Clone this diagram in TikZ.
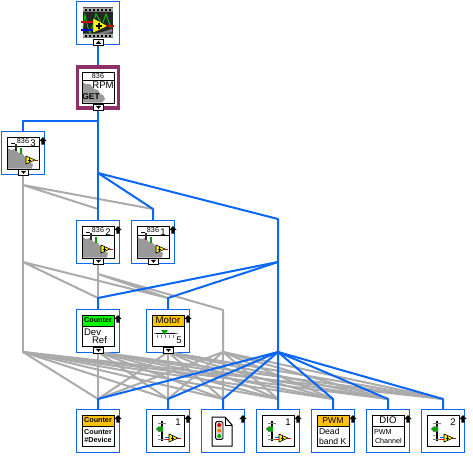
\documentclass[tikz,border=0pt]{standalone}
\usepackage{fontspec}
\setmainfont{Liberation Sans}
\definecolor{wireblue}{HTML}{0A66F5}
\definecolor{wiregray}{HTML}{ABABAB}
\definecolor{plum}{HTML}{8E2F66}
\definecolor{amber}{HTML}{FFC20E}
\definecolor{blobgray}{HTML}{999999}
\definecolor{lime}{HTML}{00FF00}
\tikzset{
  frm/.style={draw=wireblue,line width=1pt,fill=none,minimum size=43pt,inner sep=0pt,outer sep=0pt},
  frmsel/.style={draw=plum,line width=3.4pt,fill=none,minimum size=41pt,inner sep=0pt,outer sep=1.7pt},
  bluewire/.style={draw=wireblue,line width=2pt,line join=round},
  graywire/.style={draw=wiregray,line width=2pt,line join=round},
  inbox/.style={draw=black,line width=1pt,fill=white},
  lab/.style={inner sep=0pt,outer sep=0pt,text=black},
  t6/.style={lab,font=\fontsize{7.2}{8}\selectfont},
  t7/.style={lab,font=\fontsize{8.6}{9}\selectfont},
  t8/.style={lab,font=\fontsize{9.6}{10}\selectfont},
  tb/.style={lab,font=\fontsize{7.2}{8}\selectfont\bfseries},
}
% --- icon parts, all in coordinates relative to the frame's top left corner
\newcommand{\upmark}{\fill[black] (42,6)--(45.6,10)--(43.6,10)--(43.6,13.5)--(40.4,13.5)--(40.4,10)--(38.4,10)--cycle;}
\newcommand{\outbox}[1]{\draw[inbox] (17.5,38) rectangle (27.5,44.7);
  \ifnum#1=0 \fill[black] (22.5,42.8)--(19.8,39.8)--(25.2,39.8)--cycle;
  \else \fill[black] (22.5,39.6)--(19.8,42.8)--(25.2,42.8)--cycle;\fi}
\newcommand{\plainbox}{\draw[inbox] (6,6) rectangle (38,37);}
\newcommand{\ybuffer}[2]{\begin{scope}[shift={(#1,#2)}]
  \draw[red!90!black,line width=.8pt] (9,4)--(12,4);
  \fill[yellow,draw=black,line width=.6pt] (0,0)--(0,8)--(9,4)--cycle;
  \draw[black,line width=.7pt] (1.5,4)--(5,4) (3.2,2.4)--(3.2,5.6);
\end{scope}}
\newcommand{\blobicon}[1]{\draw[inbox] (6,6) rectangle (38,38);
  \draw[black,line width=1pt] (6,15)--(38,15);
  \fill[blobgray] (6.5,17)--(10,19)--(14,18)--(18,22)--(22,23)--(24,26)--(27,27)--(28,31)--(32,33)--(31,37.5)--(6.5,37.5)--cycle;
  \draw[black,line width=1pt] (6,6) rectangle (38,38);
  \draw[black,line width=.8pt] (10,12.5)--(14,12.5);
  \fill[black!80] (13.5,13)rectangle(16,20);
  \fill[green!60!black] (18.5,17)rectangle(20.5,23);
  \node[t6] at (22,10.5) {836};
  \node[t8] at (32,12) {#1};
  \ybuffer{25}{25}}
\newcommand{\sliderbase}{\fill[black] (14.5,12)rectangle(17,32);
  \draw[gray,line width=.7pt] (12,14)--(20,14)(12,18)--(14,18)(12,22)--(14,22)(12,26)--(14,26)(12,30)--(20,30);
  \fill[green!65!black,draw=gray,line width=.4pt] (10,20)--(13,17.5)--(17,17.5)--(17,22.5)--(13,22.5)--cycle;}
\newcommand{\slidericon}[1]{\plainbox \sliderbase
  \node[t8] at (32,13) {#1};
  \draw[wireblue,line width=.7pt] (19,28)--(22.5,28);
  \draw[red,line width=.7pt] (19,30)--(22.5,30);
  \ybuffer{23}{25}}
\newcommand{\titled}[4]{\draw[inbox] (6,6) rectangle (38,37);
  \fill[#1] (6.5,6.5) rectangle (37.5,#2);
  \draw[black,line width=1pt] (6,#2)--(38,#2);
  \node[#4] at (22,{(6+#2)/2}) {#3};}
\begin{document}
\begin{tikzpicture}[x=1pt,y=-1pt]
\useasboundingbox (0,0) rectangle (473,458);
\fill[white] (0,0) rectangle (473,458);
% frames
\node[frm] (wave) at (98,22.5) {};
\node[frmsel] (get) at (98,87.5) {};
\node[frm] (gthree) at (23,152.5) {};
\node[frm] (gtwo) at (98,241.5) {};
\node[frm] (gone) at (153,241.5) {};
\node[frm] (cref) at (98,330.5) {};
\node[frm] (motor) at (168,330.5) {};
\node[frm] (cdev) at (98,430.5) {};
\node[frm] (slone) at (168,430.5) {};
\node[frm] (light) at (223,430.5) {};
\node[frm] (sltwo) at (278,430.5) {};
\node[frm] (pwm) at (333,430.5) {};
\node[frm] (dio) at (388,430.5) {};
\node[frm] (slthree) at (443,430.5) {};
% bend points
\coordinate (ja) at (98,121);
\coordinate (jb) at (23,121);
\coordinate (jc) at (98,173);
\coordinate (jd) at (153,209);
\coordinate (je) at (278,219);
\coordinate (hub) at (278,262);
\coordinate (hubb) at (278,352);
\coordinate (ka) at (98,298);
\coordinate (kb) at (168,298);
\coordinate (ga) at (23,185);
\coordinate (gb) at (98,209);
\coordinate (gc) at (23,262);
\coordinate (gd) at (98,274);
\coordinate (ge) at (223,310);
\coordinate (ha) at (23,352);
\coordinate (hb) at (98,352);
\coordinate (hc) at (168,352);
\coordinate (hd) at (223,352);
\coordinate (ta) at (98,399);
\coordinate (tb) at (168,399);
\coordinate (tc) at (223,399);
\coordinate (td) at (278,399);
\coordinate (te) at (333,399);
\coordinate (tf) at (388,399);
\coordinate (tg) at (443,399);
% gray wires
\draw[graywire] (gthree.south)--(ha);
\draw[graywire] (ga)--(jd) (ga)--(gb);
\draw[graywire] (gtwo.south)--(ka);
\draw[graywire] (gc)--(ka) (gc)--(kb) (gd)--(kb) (gd)--(ge)--(hd);
\foreach \h in {ha,hb,hc,hd}{
  \foreach \t in {ta,tb,tc,td,te,tf,tg}{
    \draw[graywire] (\h)--(\t);
  }
}
% blue wires
\draw[bluewire] (wave.south)--(get.north);
\draw[bluewire] (get.south)--(gtwo.north);
\draw[bluewire] (ja)--(jb)--(gthree.north);
\draw[bluewire] (jc)--(jd)--(gone.north);
\draw[bluewire] (jc)--(je)--(hubb)--(sltwo.north);
\draw[bluewire] (hub)--(ka)--(cref.north);
\draw[bluewire] (hub)--(kb)--(motor.north);
\draw[bluewire] (hubb)--(ta)--(cdev.north);
\draw[bluewire] (hubb)--(tb)--(slone.north);
\draw[bluewire] (hubb)--(tc)--(light.north);
\draw[bluewire] (hubb)--(te)--(pwm.north);
\draw[bluewire] (hubb)--(tf)--(dio.north);
\draw[bluewire] (hubb)--(tg)--(slthree.north);
% wave icon
\begin{scope}[shift={(76,1)}]
  \fill[black!85] (7,6) rectangle (37,37);
  \fill[gray!70] (7,6.5) rectangle (37,10.5) (7,32.5) rectangle (37,36.5);
  \foreach \i in {0,...,6}{
    \fill[black] ({9+\i*4},7.5) rectangle ({11+\i*4},9.5);
    \fill[black] ({9+\i*4},33.5) rectangle ({11+\i*4},35.5);
  }
  \draw[green!80!black,line width=.9pt] (7,27)--(9,14)--(12,27)--(14,32)--(17,24);
  \draw[green!80!black,line width=.9pt] (17,24)--(20,13)--(24,20)--(26,24)--(30,13)--(35,27);
  \draw[red!85!black,line width=1.5pt] (5,21)--(17,21);
  \draw[red!85!black,line width=1.5pt] (32,25)--(38,25);
  \draw[blue!85!black,line width=1.5pt] (5,29)--(17,29);
  \fill[gray] (20,33)--(36,28)--(36,31)--(26,33)--cycle;
  \fill[yellow!90!white,draw=black,line width=.4pt] (17,17)--(17,32)--(32,25)--cycle;
  \draw[black,line width=1.4pt] (20,25)--(25.5,25) (22.8,22)--(22.8,28);
  \outbox{1}
\end{scope}
% get icon
\begin{scope}[shift={(76,66)}]
  \draw[inbox] (6,6) rectangle (38,37);
  \draw[black,line width=1pt] (6,14)--(38,14);
  \fill[blobgray] (6.5,16)--(10,18)--(14,18)--(18,23)--(22,24)--(24,28)--(27,29)--(29,33)--(26,36.5)--(6.5,36.5)--cycle;
  \draw[black,line width=1pt] (6,6) rectangle (38,37);
  \node[t6] at (22,10) {836};
  \node[t8] at (27,19.5) {RPM};
  \node[tb,font=\fontsize{8.4}{9}\selectfont\bfseries] at (15,31) {GET};
  \outbox{0}
\end{scope}
\begin{scope}[shift={(1,131)}] \blobicon{3} \upmark \outbox{0} \end{scope}
\begin{scope}[shift={(76,220)}] \blobicon{2} \upmark \outbox{0} \end{scope}
\begin{scope}[shift={(131,220)}] \blobicon{1} \upmark \outbox{0} \end{scope}
% counter ref
\begin{scope}[shift={(76,309)}]
  \titled{lime}{17}{Counter}{tb}
  \node[t8,anchor=west] at (8,23) {Dev};
  \node[t8,anchor=west] at (16,31) {Ref};
  \upmark \outbox{0}
\end{scope}
% motor
\begin{scope}[shift={(146,309)}]
  \titled{amber}{17}{Motor}{t8}
  \draw[gray,line width=.6pt] (8,24.5)--(32,24.5);
  \draw[black,line width=1.6pt] (10,24.5)--(29,24.5);
  \draw[gray,line width=.6pt] (11,26)--(11,29)(15,26)--(15,29)(19,26)--(19,29)(23,26)--(23,29)(27,26)--(27,29);
  \fill[green!65!black] (15,21)--(22,21)--(18.5,26)--cycle;
  \node[t8] at (33,31) {5};
  \upmark \outbox{0}
\end{scope}
% counter device
\begin{scope}[shift={(76,409)}]
  \titled{amber}{17}{Counter}{tb}
  \node[tb] at (22,23) {Counter};
  \node[tb] at (22,31) {\#Device};
  \upmark
\end{scope}
\begin{scope}[shift={(146,409)}] \slidericon{1} \upmark \end{scope}
% traffic light document
\begin{scope}[shift={(201,409)}]
  \draw[black,line width=1pt,fill=white] (11,8)--(24,8)--(31,16)--(31,37)--(11,37)--cycle;
  \draw[black,line width=.8pt] (24,8)--(24,16)--(31,16);
  \fill[black!15,draw=black,line width=.9pt,rounded corners=1.5pt] (14.5,12.5) rectangle (22,30.5);
  \fill[red!90!black] (18.2,16) circle (2);
  \fill[orange] (18.2,21.5) circle (2);
  \fill[green!70!black] (18.2,27) circle (2);
  \upmark
\end{scope}
\begin{scope}[shift={(256,409)}] \slidericon{1} \upmark \end{scope}
% pwm
\begin{scope}[shift={(311,409)}]
  \titled{amber}{17}{PWM}{t7}
  \node[t7,anchor=west] at (8,22.5) {Dead};
  \node[t7,anchor=west] at (8,32) {band K};
  \upmark
\end{scope}
% dio
\begin{scope}[shift={(366,409)}]
  \titled{white}{17}{DIO}{t8}
  \node[t6,anchor=west] at (8,23) {PWM};
  \node[t6,anchor=west] at (9,32) {Channel};
  \upmark
\end{scope}
\begin{scope}[shift={(421,409)}] \slidericon{2} \upmark \end{scope}
\end{tikzpicture}
\end{document}
